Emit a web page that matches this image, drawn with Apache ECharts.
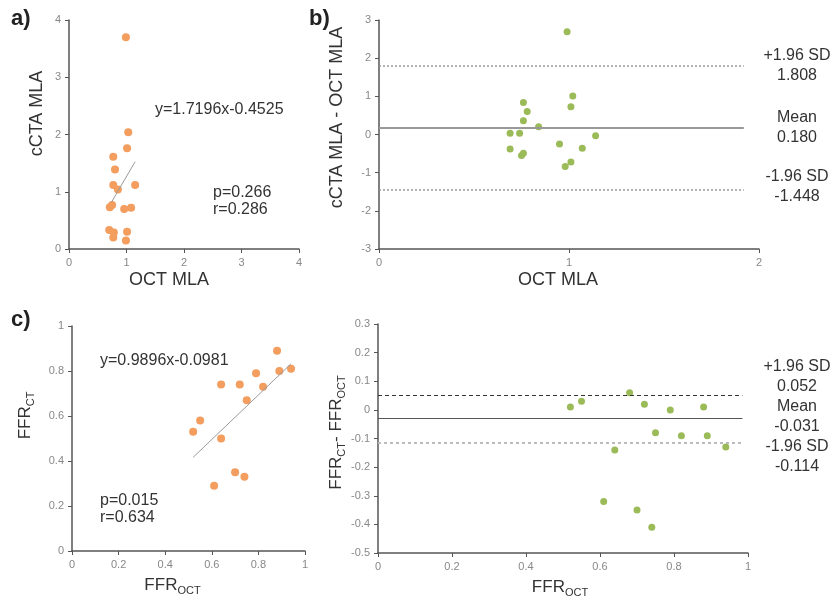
<!DOCTYPE html>
<html>
<head>
<meta charset="utf-8">
<script src="https://cdn.jsdelivr.net/npm/echarts@6/dist/echarts.min.js"></script>
<style>
    html, body { margin: 0; padding: 0; background: #fff; }
    #chart { width: 832px; height: 601px; }
</style>
</head>
<body>
<div id="chart"></div>
<script>
/* a) cCTA MLA vs OCT MLA */
var octMlaA  = [0.99, 1.03, 1.01, 0.77, 0.80, 0.77, 0.85, 1.15, 0.71, 0.75, 0.96, 1.08, 0.70, 0.78, 0.77, 1.01, 0.99];
var cctaMlaA = [3.70, 2.04, 1.76, 1.61, 1.39, 1.12, 1.04, 1.12, 0.73, 0.77, 0.70, 0.72, 0.33, 0.29, 0.20, 0.30, 0.15];
var fitA = [1.7196, -0.4525];      // slope, intercept
var fitRangeA = [0.74, 1.15];

/* b) Bland-Altman MLA */
var octMlaB = [0.99, 0.76, 1.02, 0.78, 1.01, 0.76, 0.84, 0.69, 0.74, 1.14, 0.95, 0.69, 1.07, 0.76, 0.75, 1.01, 0.98];
var diffB   = [2.69, 0.84, 1.01, 0.60, 0.73, 0.36, 0.20, 0.03, 0.03, -0.03, -0.25, -0.38, -0.36, -0.49, -0.55, -0.72, -0.84];
var limitsB = [1.808, 0.180, -1.448];   // +1.96 SD, mean, -1.96 SD
var limitEndB = 1.92;

/* c) FFR CT vs FFR OCT */
var ffrOctC = [0.52, 0.55, 0.64, 0.61, 0.70, 0.74, 0.64, 0.72, 0.75, 0.79, 0.82, 0.88, 0.89, 0.94];
var ffrCtC  = [0.53, 0.58, 0.50, 0.29, 0.35, 0.33, 0.74, 0.74, 0.67, 0.79, 0.73, 0.89, 0.80, 0.81];
var fitC = [0.9896, -0.0981];
var fitRangeC = [0.52, 0.94];

/* d) Bland-Altman FFR */
var ffrOctD = [0.52, 0.55, 0.68, 0.72, 0.79, 0.88, 0.75, 0.82, 0.89, 0.94, 0.64, 0.61, 0.70, 0.74];
var diffD   = [0.01, 0.03, 0.06, 0.02, 0.00, 0.01, -0.08, -0.09, -0.09, -0.13, -0.14, -0.32, -0.35, -0.41];
var limitsD = [0.052, -0.031, -0.114];
var limitEndD = 0.985;

var FONT = '"Liberation Sans", Arial, sans-serif';
var ORANGE = '#F39D5E';
var GREEN = '#9BBB59';

function pairs(xs, ys) {
    return xs.map(function (x, i) { return [x, ys[i]]; });
}

function fitLine(fit, range) {
    return range.map(function (x) { return [x, fit[0] * x + fit[1]]; });
}

var subRich = {
    m: { fontSize: 17, fontFamily: FONT, color: '#333' },
    s: { fontSize: 11, fontFamily: FONT, color: '#333', padding: [10, 0, 0, 0] }
};

// shift: moves the axis title along its axis (px, negative = left / down)
function axis(idx, min, max, interval, name, gap, isY, shift) {
    var pad = [0, 0, 0, 0];
    if (isY) pad[3] = 2 * shift; else pad[1] = -2 * shift;
    return {
        type: 'value',
        gridIndex: idx,
        min: min,
        max: max,
        interval: interval,
        name: name,
        nameLocation: 'middle',
        nameGap: gap,
        nameRotate: isY ? 90 : 0,
        nameTextStyle: { fontSize: 18, fontFamily: FONT, color: '#333', rich: subRich, padding: pad },
        axisLine: { show: true, onZero: false, lineStyle: { color: '#555', width: 1.5 } },
        axisTick: { show: true, length: 4, lineStyle: { color: '#555' } },
        axisLabel: { fontSize: 11, fontFamily: FONT, color: '#888', margin: 8 },
        splitLine: { show: false }
    };
}

function limitLines(limits, end, styles) {
    return {
        silent: true,
        symbol: ['none', 'none'],
        animation: false,
        label: { show: false },
        data: limits.map(function (v, i) {
            return [{ coord: [0, v], lineStyle: styles[i] }, { coord: [end, v] }];
        })
    };
}

function txt(x, y, text, opts) {
    opts = opts || {};
    return {
        type: 'text',
        x: x,
        y: y,
        style: {
            text: text,
            fontSize: opts.size || 16,
            fontWeight: opts.weight || 'normal',
            fontFamily: FONT,
            fill: opts.color || '#333',
            align: opts.align || 'left',
            verticalAlign: 'top',
            lineHeight: opts.lh || 17
        }
    };
}

var chart = echarts.init(document.getElementById('chart'));

var option = {
    animation: false,
    grid: [
        { left: 69, top: 20, width: 230, height: 229 },
        { left: 379, top: 20, width: 380, height: 229 },
        { left: 72, top: 326, width: 233, height: 225 },
        { left: 378, top: 324, width: 370, height: 229 }
    ],
    xAxis: [
        axis(0, 0, 4, 1, 'OCT MLA', 22, false, -15),
        axis(1, 0, 2, 1, 'OCT MLA', 22, false, -11),
        axis(2, 0, 1, 0.2, '{m|FFR}{s|OCT}', 24, false, -16),
        axis(3, 0, 1, 0.2, '{m|FFR}{s|OCT}', 24, false, -3)
    ],
    yAxis: [
        axis(0, 0, 4, 1, 'cCTA MLA', 23, true, 21),
        axis(1, -3, 3, 1, 'cCTA MLA - OCT MLA', 33, true, 17),
        axis(2, 0, 1, 0.2, '{m|FFR}{s|CT}', 36, true, 23),
        axis(3, -0.5, 0.3, 0.1, '{m|FFR}{s|CT}{m|- FFR}{s|OCT}', 30, true, 6)
    ],
    series: [
        {
            type: 'line', xAxisIndex: 0, yAxisIndex: 0,
            data: fitLine(fitA, fitRangeA), symbol: 'none',
            lineStyle: { color: '#999', width: 1 }
        },
        {
            type: 'scatter', xAxisIndex: 0, yAxisIndex: 0,
            data: pairs(octMlaA, cctaMlaA), symbolSize: 8,
            itemStyle: { color: ORANGE, opacity: 1 }
        },
        {
            type: 'scatter', xAxisIndex: 1, yAxisIndex: 1,
            data: pairs(octMlaB, diffB), symbolSize: 7,
            itemStyle: { color: GREEN, opacity: 1 },
            markLine: limitLines(limitsB, limitEndB, [
                { color: '#999', width: 1.5, type: [2, 2] },
                { color: '#999', width: 2, type: 'solid' },
                { color: '#999', width: 1.5, type: [2, 2] }
            ])
        },
        {
            type: 'line', xAxisIndex: 2, yAxisIndex: 2,
            data: fitLine(fitC, fitRangeC), symbol: 'none',
            lineStyle: { color: '#999', width: 1 }
        },
        {
            type: 'scatter', xAxisIndex: 2, yAxisIndex: 2,
            data: pairs(ffrOctC, ffrCtC), symbolSize: 8,
            itemStyle: { color: ORANGE, opacity: 1 }
        },
        {
            type: 'scatter', xAxisIndex: 3, yAxisIndex: 3,
            data: pairs(ffrOctD, diffD), symbolSize: 7,
            itemStyle: { color: GREEN, opacity: 1 },
            markLine: limitLines(limitsD, limitEndD, [
                { color: '#333', width: 1, type: [4, 3] },
                { color: '#555', width: 1, type: 'solid' },
                { color: '#bbb', width: 2, type: [3, 3] }
            ])
        }
    ],
    graphic: [
        txt(11, 10, 'a)', { size: 22, weight: 'bold', color: '#222' }),
        txt(309, 10, 'b)', { size: 22, weight: 'bold', color: '#222' }),
        txt(11, 311, 'c)', { size: 22, weight: 'bold', color: '#222' }),

        txt(155, 101, 'y=1.7196x-0.4525'),
        txt(213, 184, 'p=0.266\nr=0.286'),
        txt(100, 352, 'y=0.9896x-0.0981'),
        txt(100, 492, 'p=0.015\nr=0.634'),

        txt(797, 46, '+1.96 SD\n' + limitsB[0].toFixed(3), { align: 'center', lh: 20 }),
        txt(797, 108, 'Mean\n' + limitsB[1].toFixed(3), { align: 'center', lh: 20 }),
        txt(797, 167, '-1.96 SD\n' + limitsB[2].toFixed(3), { align: 'center', lh: 20 }),
        txt(797, 357, '+1.96 SD\n' + limitsD[0].toFixed(3) + '\nMean\n' + limitsD[1].toFixed(3) +
            '\n-1.96 SD\n' + limitsD[2].toFixed(3), { align: 'center', lh: 20 })
    ]
};

chart.setOption(option);
</script>
</body>
</html>
